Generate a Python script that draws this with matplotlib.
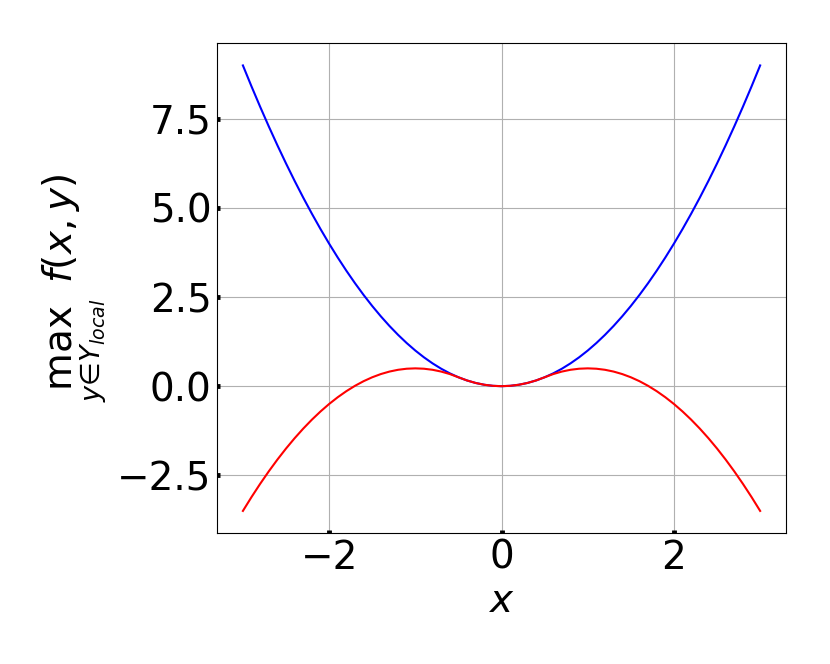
import matplotlib
matplotlib.use("Agg")
import matplotlib.pyplot as plt

xs = [-3.0, -2.9, -2.8, -2.7, -2.6, -2.5, -2.4, -2.3, -2.2, -2.1,
      -2.0, -1.9, -1.8, -1.7, -1.6, -1.5, -1.4, -1.3, -1.2, -1.1,
      -1.0, -0.9, -0.8, -0.7, -0.6, -0.5, -0.4, -0.3, -0.2, -0.1,
      0.0, 0.1, 0.2, 0.3, 0.4, 0.5, 0.6, 0.7, 0.8, 0.9,
      1.0, 1.1, 1.2, 1.3, 1.4, 1.5, 1.6, 1.7, 1.8, 1.9,
      2.0, 2.1, 2.2, 2.3, 2.4, 2.5, 2.6, 2.7, 2.8, 2.9, 3.0]
max_global = [9.0, 8.41, 7.84, 7.29, 6.76, 6.25, 5.76, 5.29, 4.84, 4.41,
              4.0, 3.61, 3.24, 2.89, 2.56, 2.25, 1.96, 1.69, 1.44, 1.21,
              1.0, 0.81, 0.64, 0.49, 0.36, 0.25, 0.16, 0.09, 0.04, 0.01,
              0.0, 0.01, 0.04, 0.09, 0.16, 0.25, 0.36, 0.49, 0.64, 0.81,
              1.0, 1.21, 1.44, 1.69, 1.96, 2.25, 2.56, 2.89, 3.24, 3.61,
              4.0, 4.41, 4.84, 5.29, 5.76, 6.25, 6.76, 7.29, 7.84, 8.41, 9.0]
max_local = [-3.5, -3.11, -2.74, -2.39, -2.06, -1.75, -1.46, -1.19, -0.94, -0.71,
             -0.5, -0.31, -0.14, 0.01, 0.14, 0.25, 0.34, 0.41, 0.46, 0.49,
             0.5, 0.49, 0.46, 0.41, 0.34, 0.25, 0.16, 0.09, 0.04, 0.01,
             0.0, 0.01, 0.04, 0.09, 0.16, 0.25, 0.34, 0.41, 0.46, 0.49,
             0.5, 0.49, 0.46, 0.41, 0.34, 0.25, 0.14, 0.01, -0.14, -0.31,
             -0.5, -0.71, -0.94, -1.19, -1.46, -1.75, -2.06, -2.39, -2.74, -3.11, -3.5]
xticks = [-2, 0, 2]
yticks = [-2.5, 0.0, 2.5, 5.0, 7.5]

fig = plt.figure(figsize=(8.3, 6.64), dpi=100)
ax = fig.add_axes([0.2615, 0.197, 0.6855, 0.738])

ax.plot(xs, max_global, color="blue", linewidth=1.5)
ax.plot(xs, max_local, color="red", linewidth=1.5)

ax.set_xticks(xticks)
ax.set_yticks(yticks)
ax.tick_params(direction="in", length=2.2, width=3.5, labelsize=28, pad=4)
ax.grid(True, color="#b0b0b0", linewidth=0.8)
ax.set_xlabel("$x$", fontsize=28, labelpad=4)
ax.set_ylabel(r"$\max_{y \in Y_{local}}\ f(x, y)$", fontsize=28, labelpad=6)

fig.savefig("out.png", dpi=100)
